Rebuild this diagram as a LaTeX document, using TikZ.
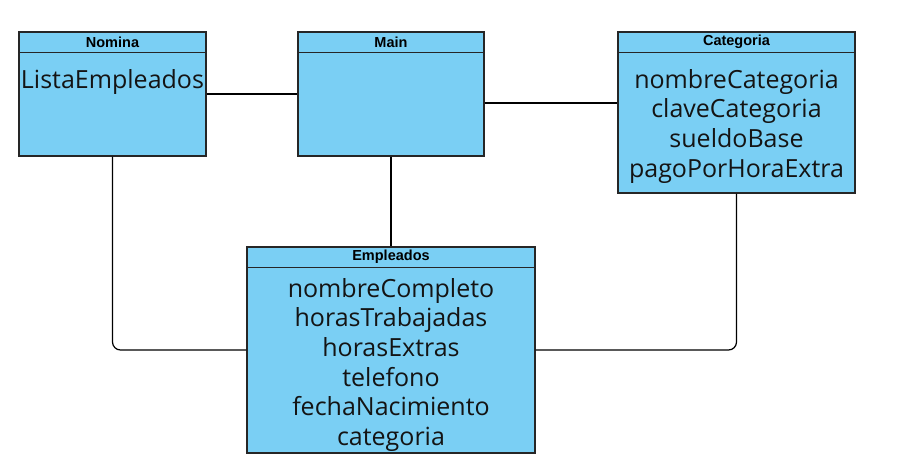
\documentclass[tikz,border=0pt]{standalone}
\usepackage{fontspec}
\setmainfont{Open Sans}
\newfontfamily\headfont{Liberation Sans}
\usetikzlibrary{positioning}
\definecolor{boxblue}{HTML}{7ACFF4}
\definecolor{edgegray}{HTML}{262626}
\begin{document}
\begin{tikzpicture}[x=1pt,y=-1pt,
    classbox/.style={draw=edgegray,fill=boxblue,line width=1.2pt,inner sep=0pt},
    headtext/.style={font=\headfont\bfseries\fontsize{14.5}{16}\selectfont,inner sep=0pt},
    attrtext/.style={font=\fontsize{25}{29.7}\selectfont,align=center,inner sep=0pt,text=black!92},
    link/.style={draw=black,line width=1.2pt,rounded corners=8pt}]
  \useasboundingbox (0,0) rectangle (912,475);
  % classes
  \node[classbox,minimum width=187pt,minimum height=124pt] (nomina) at (112.5,94) {};
  \node[classbox,minimum width=186pt,minimum height=124pt] (main) at (391,94) {};
  \node[classbox,minimum width=237pt,minimum height=161pt] (categoria) at (736.5,112.5) {};
  \node[classbox,minimum width=288pt,minimum height=206pt] (empleados) at (391,350) {};
  % header rows
  \foreach \c in {nomina,main,categoria,empleados}
    \draw[edgegray,line width=1.2pt] ([yshift=-21pt]\c.north west) -- ([yshift=-21pt]\c.north east);
  \node[headtext] (nominahead) at ([yshift=-10.5pt]nomina.north) {Nomina};
  \node[headtext] (mainhead) at ([yshift=-10.5pt]main.north) {Main};
  \node[headtext] (categoriahead) at ([yshift=-10.5pt]categoria.north) {Categoria};
  \node[headtext] (empleadoshead) at ([yshift=-10.5pt]empleados.north) {Empleados};
  % attributes (base = last line)
  \node[attrtext,anchor=base] (nominaattr) at (112.5,88) {ListaEmpleados};
  \node[attrtext,anchor=base] (categoriaattr) at (736.5,177.1)
    {nombreCategoria\\claveCategoria\\sueldoBase\\pagoPorHoraExtra};
  \node[attrtext,anchor=base] (empleadosattr) at (391,445.5)
    {nombreCompleto\\horasTrabajadas\\horasExtras\\telefono\\fechaNacimiento\\categoria};
  % links
  \draw[link] (nomina) -- (main);
  \draw[link] ([yshift=-9pt]main.east) -- ([yshift=-9pt]main.east -| categoria.west);
  \draw[link] (main) -- (empleados);
  \draw[link] (nomina) |- (empleados);
  \draw[link] (categoria) |- (empleados);
\end{tikzpicture}
\end{document}
